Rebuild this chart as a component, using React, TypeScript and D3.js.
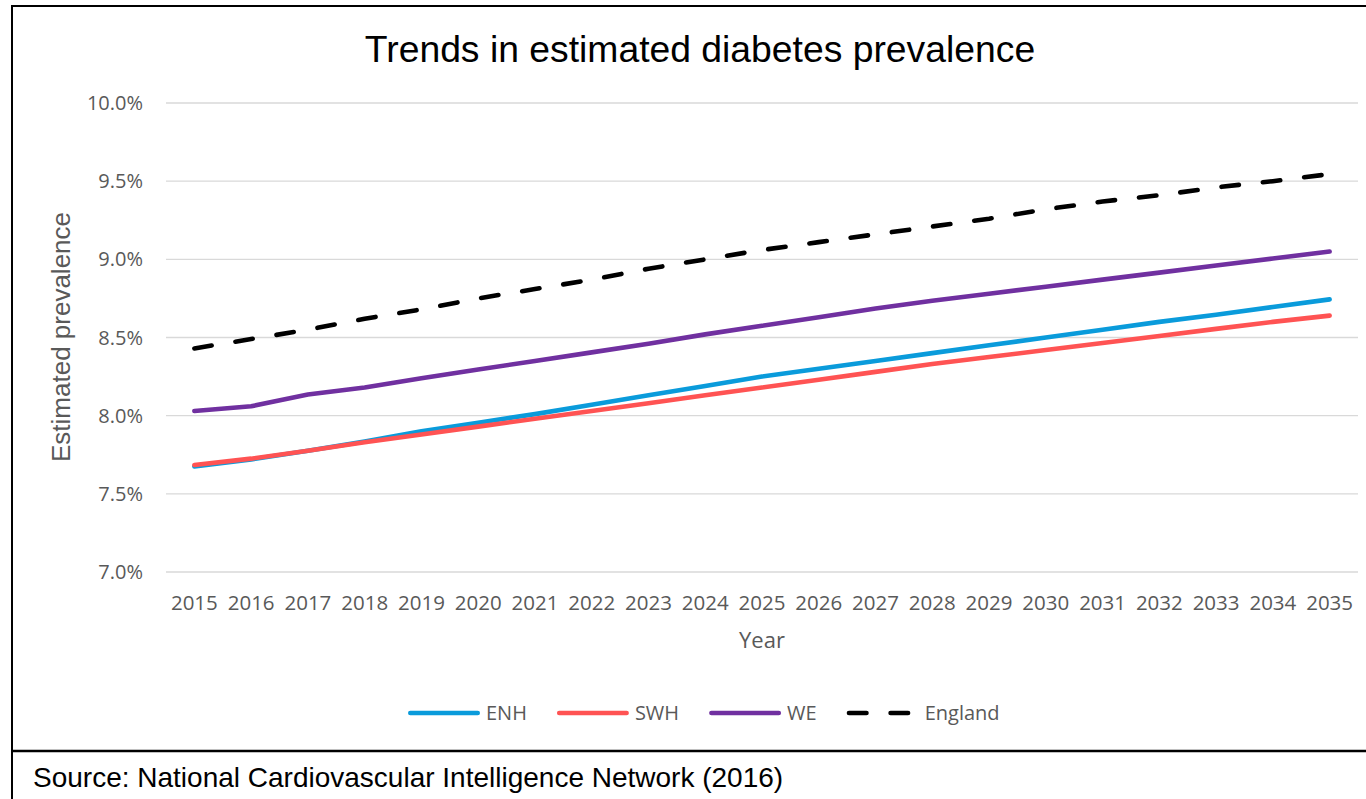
import React from "react";
import * as d3 from "d3";

// Projection years and estimated diabetes prevalence (%) per area
const years = [
  "2015", "2016", "2017", "2018", "2019", "2020", "2021", "2022", "2023", "2024", "2025",
  "2026", "2027", "2028", "2029", "2030", "2031", "2032", "2033", "2034", "2035",
];

const enh = [
  7.675, 7.72, 7.775, 7.835, 7.9, 7.955, 8.01, 8.07, 8.13, 8.19, 8.25,
  8.3, 8.35, 8.4, 8.45, 8.5, 8.55, 8.6, 8.645, 8.695, 8.744,
];
const swh = [
  7.685, 7.725, 7.775, 7.83, 7.88, 7.93, 7.98, 8.03, 8.08, 8.13, 8.18,
  8.23, 8.28, 8.33, 8.375, 8.42, 8.465, 8.51, 8.555, 8.6, 8.64,
];
const we = [
  8.03, 8.06, 8.135, 8.18, 8.24, 8.295, 8.35, 8.405, 8.46, 8.52, 8.575,
  8.63, 8.685, 8.735, 8.78, 8.825, 8.87, 8.915, 8.96, 9.005, 9.05,
];
const england = [
  8.43, 8.49, 8.55, 8.62, 8.68, 8.75, 8.81, 8.87, 8.94, 9.0, 9.06,
  9.11, 9.16, 9.21, 9.26, 9.32, 9.37, 9.41, 9.46, 9.5, 9.545,
];

const yTicks = [7.0, 7.5, 8.0, 8.5, 9.0, 9.5, 10.0];

const seriesNames = ["ENH", "SWH", "WE", "England"];
const seriesColors = ["#0a9bdb", "#ff5353", "#7030a0", "#000000"];
const seriesDashed = [false, false, false, true];
const seriesValues = [enh, swh, we, england];

const W = 1366;
const H = 799;
const DASH = "17.5 24.1";
const LABEL_FONT = "'Open Sans', sans-serif";
const ARIAL = "'Liberation Sans', Arial, sans-serif";

function textWidth(text: string, font: string): number {
  const canvas = document.createElement("canvas");
  const ctx = canvas.getContext("2d");
  if (!ctx) return text.length * 10;
  ctx.font = font;
  return ctx.measureText(text).width;
}

export default function App() {
  const x = d3.scalePoint<string>().domain(years).range([166, 1358]).padding(0.5);
  const y = d3.scaleLinear().domain([7, 10]).range([572, 103]);

  const line = d3
    .line<number>()
    .x((_, i) => x(years[i]) as number)
    .y((d) => y(d));

  // legend layout: sample line, gap, label, spacing
  const legendFont = `20px ${LABEL_FONT}`;
  const sampleLen = 72;
  let cursor = 408;
  const legendItems = seriesNames.map((name, i) => {
    const start = cursor;
    const tw = textWidth(name, legendFont);
    cursor += sampleLen + 6 + tw + 30;
    return { name, i, start };
  });

  return (
    <div style={{ position: "absolute", left: 0, top: 0, width: W, height: H, background: "#fff" }}>
      <svg width={W} height={H} style={{ display: "block" }}>
        <rect x={0} y={0} width={W} height={H} fill="#fff" />

        {/* frame */}
        <line x1={11} x2={W} y1={6} y2={6} stroke="#000" strokeWidth={2} />
        <line x1={12} x2={12} y1={5} y2={H} stroke="#000" strokeWidth={2} />
        <line x1={11} x2={W} y1={751} y2={751} stroke="#000" strokeWidth={2.5} />

        {/* title */}
        <text x={700} y={62} textAnchor="middle" fontFamily={ARIAL} fontSize={37.3} fill="#000">
          Trends in estimated diabetes prevalence
        </text>

        {/* gridlines and y ticks */}
        {yTicks.map((t) => (
          <g key={t}>
            <line x1={166} x2={1358} y1={y(t)} y2={y(t)} stroke="#d9d9d9" strokeWidth={1.3} />
            <text
              x={143}
              y={y(t)}
              dy="0.35em"
              textAnchor="end"
              fontFamily={LABEL_FONT}
              fontSize={20}
              fill="#595959"
            >
              {d3.format(".1%")(t / 100)}
            </text>
          </g>
        ))}

        {/* x ticks */}
        {years.map((yr) => (
          <text
            key={yr}
            x={x(yr) as number}
            y={610}
            textAnchor="middle"
            fontFamily={LABEL_FONT}
            fontSize={20.5}
            fill="#595959"
          >
            {yr}
          </text>
        ))}

        {/* axis titles */}
        <text x={762} y={648} textAnchor="middle" fontFamily={LABEL_FONT} fontSize={22} fill="#595959">
          Year
        </text>
        <text
          transform={`translate(70,337) rotate(-90)`}
          textAnchor="middle"
          fontFamily={ARIAL}
          fontSize={26}
          fill="#595959"
        >
          Estimated prevalence
        </text>

        {/* series */}
        {seriesValues.map((vals, i) => (
          <path
            key={seriesNames[i]}
            d={line(vals) as string}
            fill="none"
            stroke={seriesColors[i]}
            strokeWidth={4.6}
            strokeLinecap="round"
            strokeLinejoin="round"
            strokeDasharray={seriesDashed[i] ? DASH : undefined}
          />
        ))}

        {/* legend */}
        {legendItems.map(({ name, i, start }) => (
          <g key={name}>
            <line
              x1={start + 2.3}
              x2={start + sampleLen - 2.3}
              y1={713}
              y2={713}
              stroke={seriesColors[i]}
              strokeWidth={4.6}
              strokeLinecap="round"
              strokeDasharray={seriesDashed[i] ? DASH : undefined}
            />
            <text
              x={start + sampleLen + 6}
              y={713}
              dy="0.35em"
              fontFamily={LABEL_FONT}
              fontSize={20}
              fill="#595959"
            >
              {name}
            </text>
          </g>
        ))}

        {/* source note */}
        <text x={33} y={787} fontFamily={ARIAL} fontSize={28} fill="#000">
          Source: National Cardiovascular Intelligence Network (2016)
        </text>
      </svg>
    </div>
  );
}
